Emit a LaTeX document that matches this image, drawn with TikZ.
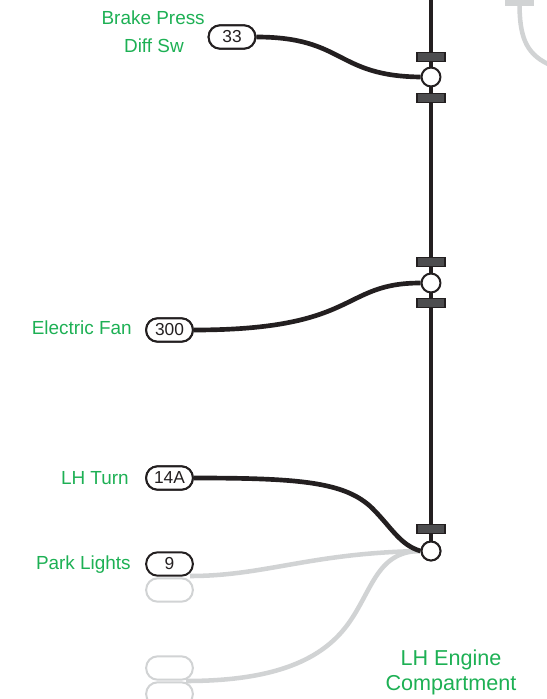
\documentclass[tikz,border=0pt]{standalone}
\usepackage{fontspec}
\setmainfont{Liberation Sans}
\definecolor{wire}{HTML}{231F20}
\definecolor{ghost}{HTML}{D1D3D4}
\definecolor{lbl}{HTML}{1DB054}
\definecolor{barf}{HTML}{4D4D4F}
\tikzset{x=0.75pt,y=-0.75pt,
 wirel/.style={draw=wire,line width=3.5pt,line cap=butt},
 ghostl/.style={draw=ghost,line width=3.4pt},
 pin/.style={draw=wire,fill=white,rounded corners=8.5pt,line width=1.5pt,minimum width=35pt,minimum height=17.5pt,inner sep=0pt,text=wire,font=\fontsize{13pt}{14pt}\selectfont},
 ghostpin/.style={pin,draw=ghost},
 joint/.style={circle,draw=wire,fill=white,line width=1.5pt,minimum size=14.2pt,inner sep=0pt},
 bar/.style={draw=wire,fill=barf,line width=1.2pt,minimum width=21pt,minimum height=7pt,inner sep=0pt},
 lab/.style={text=lbl,font=\fontsize{14.2pt}{15pt}\selectfont,inner sep=0pt}}
\begin{document}
\begin{tikzpicture}
\useasboundingbox (0,0) rectangle (546,699);
% ghost top right
\coordinate (gt) at (519.5,3);
\coordinate (ge) at (548,64);
\draw[ghostl] (gt) .. controls (519.5,35) and (525,53) .. (ge);
\node[draw=none,fill=ghost,minimum width=22pt,minimum height=5pt,inner sep=0pt] (gbar) at (519.5,2.5) {};
% main
\coordinate (top) at (431,-2);
\coordinate (bot) at (431,551);
\draw[wirel] (top) -- (bot);
\node[ghostpin] (g1) at (169.5,590) {};
\node[ghostpin] (g2) at (169.5,668) {};
\node[ghostpin] (g3) at (169.5,694) {};
\node[pin] (p9) at (169.5,564) {9};
\node[joint] (j3) at (431,551) {};
\coordinate (c9) at (190,576);
\coordinate (cg) at (186,681);
\draw[ghostl] (c9) .. controls (265,576) and (310,553) .. (j3.west);
\draw[ghostl] (cg) .. controls (270,681) and (318,662) .. (345,628) .. controls (372,594) and (375,551) .. (j3.west);
\node[pin] (p33) at (232,37) {33};
\node[pin] (p300) at (169.5,330) {300};
\node[pin] (p14) at (169.5,478) {14A};
\node[joint] (j1) at (431,77) {};
\node[joint] (j2) at (431,283) {};
\draw[wirel] (p33.east) .. controls (345,37) and (335,76) .. (j1.west);
\draw[wirel] (p300.east) .. controls (360,330) and (340,283) .. (j2.west);
\draw[wirel] (p14.east) .. controls (300,478) and (345,482) .. (372,508) .. controls (392,528) and (400,545) .. (j3.west);
\node[joint] at (431,551) {};
\node[pin] at (p33) {33};
\node[pin] at (p300) {300};
\node[pin] at (p14) {14A};
\node[bar] (b1) at (431,57) {};
\node[bar] (b2) at (431,98) {};
\node[bar] (b3) at (431,262) {};
\node[bar] (b4) at (431,303) {};
\node[bar] (b5) at (431,529) {};
\node[lab,anchor=east] (l1) at (205,18) {Brake Press};
\node[lab,anchor=east] (l2) at (184,46) {Diff Sw};
\node[lab,anchor=east] (l3) at (132,328) {Electric Fan};
\node[lab,anchor=east] (l4) at (129,478) {LH Turn};
\node[lab,anchor=east] (l5) at (131,565) {Park Lights};
\node[lab,font=\fontsize{16.2pt}{17pt}\selectfont] (l6) at (451,660) {LH Engine};
\node[lab,font=\fontsize{16.2pt}{17pt}\selectfont] (l7) at (451,685) {Compartment};
\end{tikzpicture}
\end{document}
